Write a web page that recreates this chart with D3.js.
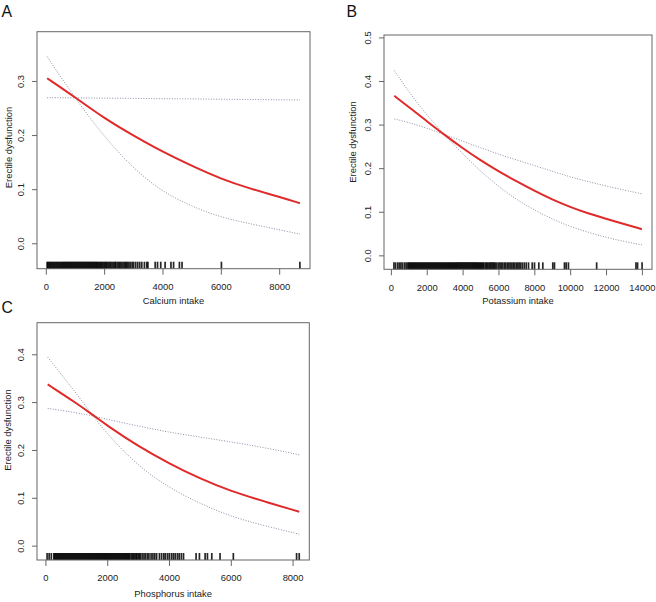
<!DOCTYPE html>
<html><head><meta charset="utf-8">
<script src="https://cdn.jsdelivr.net/npm/d3@7"></script>
<style>body{margin:0;background:#fff} text{font-family:"Liberation Sans",Arial,sans-serif}</style>
</head><body><svg id="c" width="656" height="602"></svg>
<script>
// ---------- DATA ----------
const panelLetters = ["A", "B", "C"];
const xTitles = ["Calcium intake", "Potassium intake", "Phosphorus intake"];
const yTitle = "Erectile dysfunction";
const xTicksA = [0, 2000, 4000, 6000, 8000];
const xTicksB = [0, 2000, 4000, 6000, 8000, 10000, 12000, 14000];
const xTicksC = [0, 2000, 4000, 6000, 8000];
const yTicksA = [0.0, 0.1, 0.2, 0.3];
const yTicksB = [0.0, 0.1, 0.2, 0.3, 0.4, 0.5];
const yTicksC = [0.0, 0.1, 0.2, 0.3, 0.4];

// Calcium (A)
const calciumX   = [45, 1000, 2000, 3000, 4000, 5000, 6000, 7000, 8000, 8710];
const calciumFit = [0.305, 0.270, 0.231, 0.199, 0.169, 0.143, 0.119, 0.101, 0.086, 0.074];
const calciumCI1 = [0.345, 0.268, 0.197, 0.138, 0.095, 0.068, 0.048, 0.036, 0.025, 0.017];
const calciumCI2 = [0.269, 0.269, 0.268, 0.268, 0.267, 0.267, 0.266, 0.266, 0.265, 0.265];
const calciumRug = [45,75,110,140,175,210,245,280,315,350,385,420,455,490,525,560,595,630,665,700,735,770,805,840,875,910,945,980,1015,1050,1085,1120,1155,1190,1225,1260,1295,1330,1365,1400,1435,1470,1505,1540,1575,1610,1645,1680,1715,1750,1785,1820,1855,1890,1925,1960,2000,2040,2075,2110,2160,2200,2235,2280,2330,2370,2400,2450,2500,2540,2580,2630,2680,2720,2760,2800,2850,2900,2960,3010,3080,3150,3220,3290,3380,3460,3500,3750,3830,3940,4090,4290,4380,4580,4670,6020,8710];

// Potassium (B)
const potassiumX   = [190, 1000, 2000, 3000, 4000, 5000, 6000, 7000, 8000, 9000, 10000, 11000, 12000, 13000, 14000];
const potassiumFit = [0.366, 0.340, 0.308, 0.276, 0.246, 0.218, 0.193, 0.170, 0.148, 0.128, 0.111, 0.096, 0.084, 0.072, 0.060];
const potassiumCI1 = [0.424, 0.375, 0.322, 0.276, 0.233, 0.193, 0.158, 0.128, 0.104, 0.083, 0.066, 0.053, 0.041, 0.032, 0.024];
const potassiumCI2 = [0.313, 0.305, 0.292, 0.277, 0.262, 0.247, 0.232, 0.219, 0.206, 0.193, 0.180, 0.169, 0.159, 0.150, 0.141];
const potassiumRug = [170,260,380,470,560,650,760,850,940,1000,1055,1110,1165,1220,1275,1330,1385,1440,1495,1550,1605,1660,1715,1770,1825,1880,1935,1990,2045,2100,2155,2210,2265,2320,2375,2430,2485,2540,2595,2650,2705,2760,2815,2870,2925,2980,3035,3090,3145,3200,3255,3310,3365,3420,3475,3530,3585,3640,3695,3750,3805,3860,3915,3970,4025,4080,4135,4190,4245,4300,4355,4410,4465,4520,4575,4630,4685,4740,4795,4850,4905,4960,5015,5070,5125,5180,5260,5330,5380,5450,5520,5580,5640,5700,5760,5820,5900,5990,6080,6150,6240,6330,6400,6490,6570,6650,6740,6820,6900,6990,7070,7150,7232,7327,7438,7549,7677,7883,8011,8251,8474,9030,9124,9680,9775,9902,11477,13669,13758,14010];

// Phosphorus (C)
const phosphorusX   = [74, 1000, 1560, 2000, 3000, 4000, 5000, 6000, 7000, 8215];
const phosphorusFit = [0.337, 0.298, 0.272, 0.251, 0.208, 0.172, 0.140, 0.114, 0.094, 0.071];
const phosphorusCI1 = [0.394, 0.318, 0.270, 0.233, 0.166, 0.121, 0.088, 0.061, 0.043, 0.024];
const phosphorusCI2 = [0.287, 0.278, 0.271, 0.264, 0.250, 0.237, 0.227, 0.217, 0.206, 0.190];
const phosphorusRug = [54,120,190,270,302,334,366,398,430,462,494,526,558,590,622,654,686,718,750,782,814,846,878,910,942,974,1006,1038,1070,1102,1134,1166,1198,1230,1262,1294,1326,1358,1390,1422,1454,1486,1518,1550,1582,1614,1646,1678,1710,1742,1774,1806,1838,1870,1902,1934,1966,1998,2030,2062,2094,2126,2158,2190,2222,2254,2286,2318,2350,2382,2414,2446,2478,2510,2542,2574,2606,2638,2670,2702,2734,2780,2820,2850,2890,2930,2960,3000,3040,3070,3130,3190,3240,3300,3350,3420,3480,3540,3600,3690,3760,3830,3880,3950,4010,4080,4140,4200,4270,4330,4400,4470,4877,4985,5169,5244,5385,5653,6083,8130,8215];

// ---------- LAYOUT ----------
const panels = [
  {letter: panelLetters[0], xTitle: xTitles[0], x: calciumX, fit: calciumFit, ci1: calciumCI1, ci2: calciumCI2, rug: calciumRug,
   xTicks: xTicksA, yTicks: yTicksA, box: {l: 37, r: 310, t: 31.7, b: 268.7}, yDom: [-0.047, 0.391],
   letterPos: [1.5, 17.3], yTitlePos: [8.5, 147.5], xTitleY: 303.5},
  {letter: panelLetters[1], xTitle: xTitles[1], x: potassiumX, fit: potassiumFit, ci1: potassiumCI1, ci2: potassiumCI2, rug: potassiumRug,
   xTicks: xTicksB, yTicks: yTicksB, box: {l: 384, r: 652, t: 35, b: 269.3}, yDom: [-0.032, 0.5055],
   letterPos: [346.5, 17.3], yTitlePos: [353, 142], xTitleY: 303.5},
  {letter: panelLetters[2], xTitle: xTitles[2], x: phosphorusX, fit: phosphorusFit, ci1: phosphorusCI1, ci2: phosphorusCI2, rug: phosphorusRug,
   xTicks: xTicksC, yTicks: yTicksC, box: {l: 37, r: 309.3, t: 322.7, b: 560}, yDom: [-0.030, 0.466],
   letterPos: [1.5, 313.3], yTitlePos: [8, 430], xTitleY: 597}
];

const svg = d3.select("#c");
svg.append("rect").attr("width", 656).attr("height", 602).attr("fill", "#fff");

const fs = 9.4;
panels.forEach(p => {
  const [mn, mx] = d3.extent(p.rug);
  const pad = (mx - mn) * 0.04;
  const x = d3.scaleLinear().domain([mn - pad, mx + pad]).range([p.box.l, p.box.r]);
  const y = d3.scaleLinear().domain(p.yDom).range([p.box.b, p.box.t]);
  const g = svg.append("g");

  // rug
  g.append("g").selectAll("line").data(p.rug).join("line")
    .attr("x1", d => x(d)).attr("x2", d => x(d))
    .attr("y1", p.box.b).attr("y2", p.box.b - 7)
    .attr("stroke", "#000").attr("stroke-width", 1.7).attr("stroke-opacity", 0.85);

  const line = d3.line().x(d => x(d[0])).y(d => y(d[1])).curve(d3.curveBasis);
  [p.ci1, p.ci2].forEach(ci => {
    g.append("path").attr("d", line(p.x.map((v, i) => [v, ci[i]])))
      .attr("fill", "none").attr("stroke", "#8a90a6").attr("stroke-width", 1)
      .attr("stroke-dasharray", "1,1.6");
  });
  g.append("path").attr("d", line(p.x.map((v, i) => [v, p.fit[i]])))
    .attr("fill", "none").attr("stroke", "#e02a2a").attr("stroke-width", 2);

  // box
  g.append("rect").attr("x", p.box.l).attr("y", p.box.t)
    .attr("width", p.box.r - p.box.l).attr("height", p.box.b - p.box.t)
    .attr("fill", "none").attr("stroke", "#666").attr("stroke-width", 1);

  // x axis
  const xa = g.append("g").attr("transform", `translate(0,${p.box.b})`)
    .call(d3.axisBottom(x).tickValues(p.xTicks).tickSize(6).tickPadding(8.7).tickFormat(d3.format("d")));
  xa.select(".domain").remove();
  xa.selectAll("line").attr("stroke", "#666");
  xa.selectAll("text").attr("fill", "#222").style("font-size", fs + "px").style("font-family", '"Liberation Sans",Arial,sans-serif');

  // y axis
  const ya = g.append("g").attr("transform", `translate(${p.box.l},0)`)
    .call(d3.axisLeft(y).tickValues(p.yTicks).tickSize(5).tickFormat(d3.format(".1f")));
  ya.select(".domain").remove();
  ya.selectAll("line").attr("stroke", "#666");
  ya.selectAll("text").attr("x", null).attr("dy", "0.35em")
    .attr("transform", "translate(-16.5,0) rotate(-90)")
    .attr("text-anchor", "middle").attr("fill", "#222")
    .style("font-size", fs + "px").style("font-family", '"Liberation Sans",Arial,sans-serif');

  // titles
  g.append("text").attr("x", (p.box.l + p.box.r) / 2).attr("y", p.xTitleY)
    .attr("text-anchor", "middle").attr("fill", "#222").style("font-size", fs + "px").text(p.xTitle);
  g.append("text").attr("transform", `translate(${p.yTitlePos[0]},${p.yTitlePos[1]}) rotate(-90)`)
    .attr("dy", "0.35em").attr("text-anchor", "middle").attr("fill", "#222").style("font-size", fs + "px").text(yTitle);
  g.append("text").attr("x", p.letterPos[0]).attr("y", p.letterPos[1])
    .attr("fill", "#111").style("font-size", "15.8px").text(p.letter);
});
</script></body></html>
